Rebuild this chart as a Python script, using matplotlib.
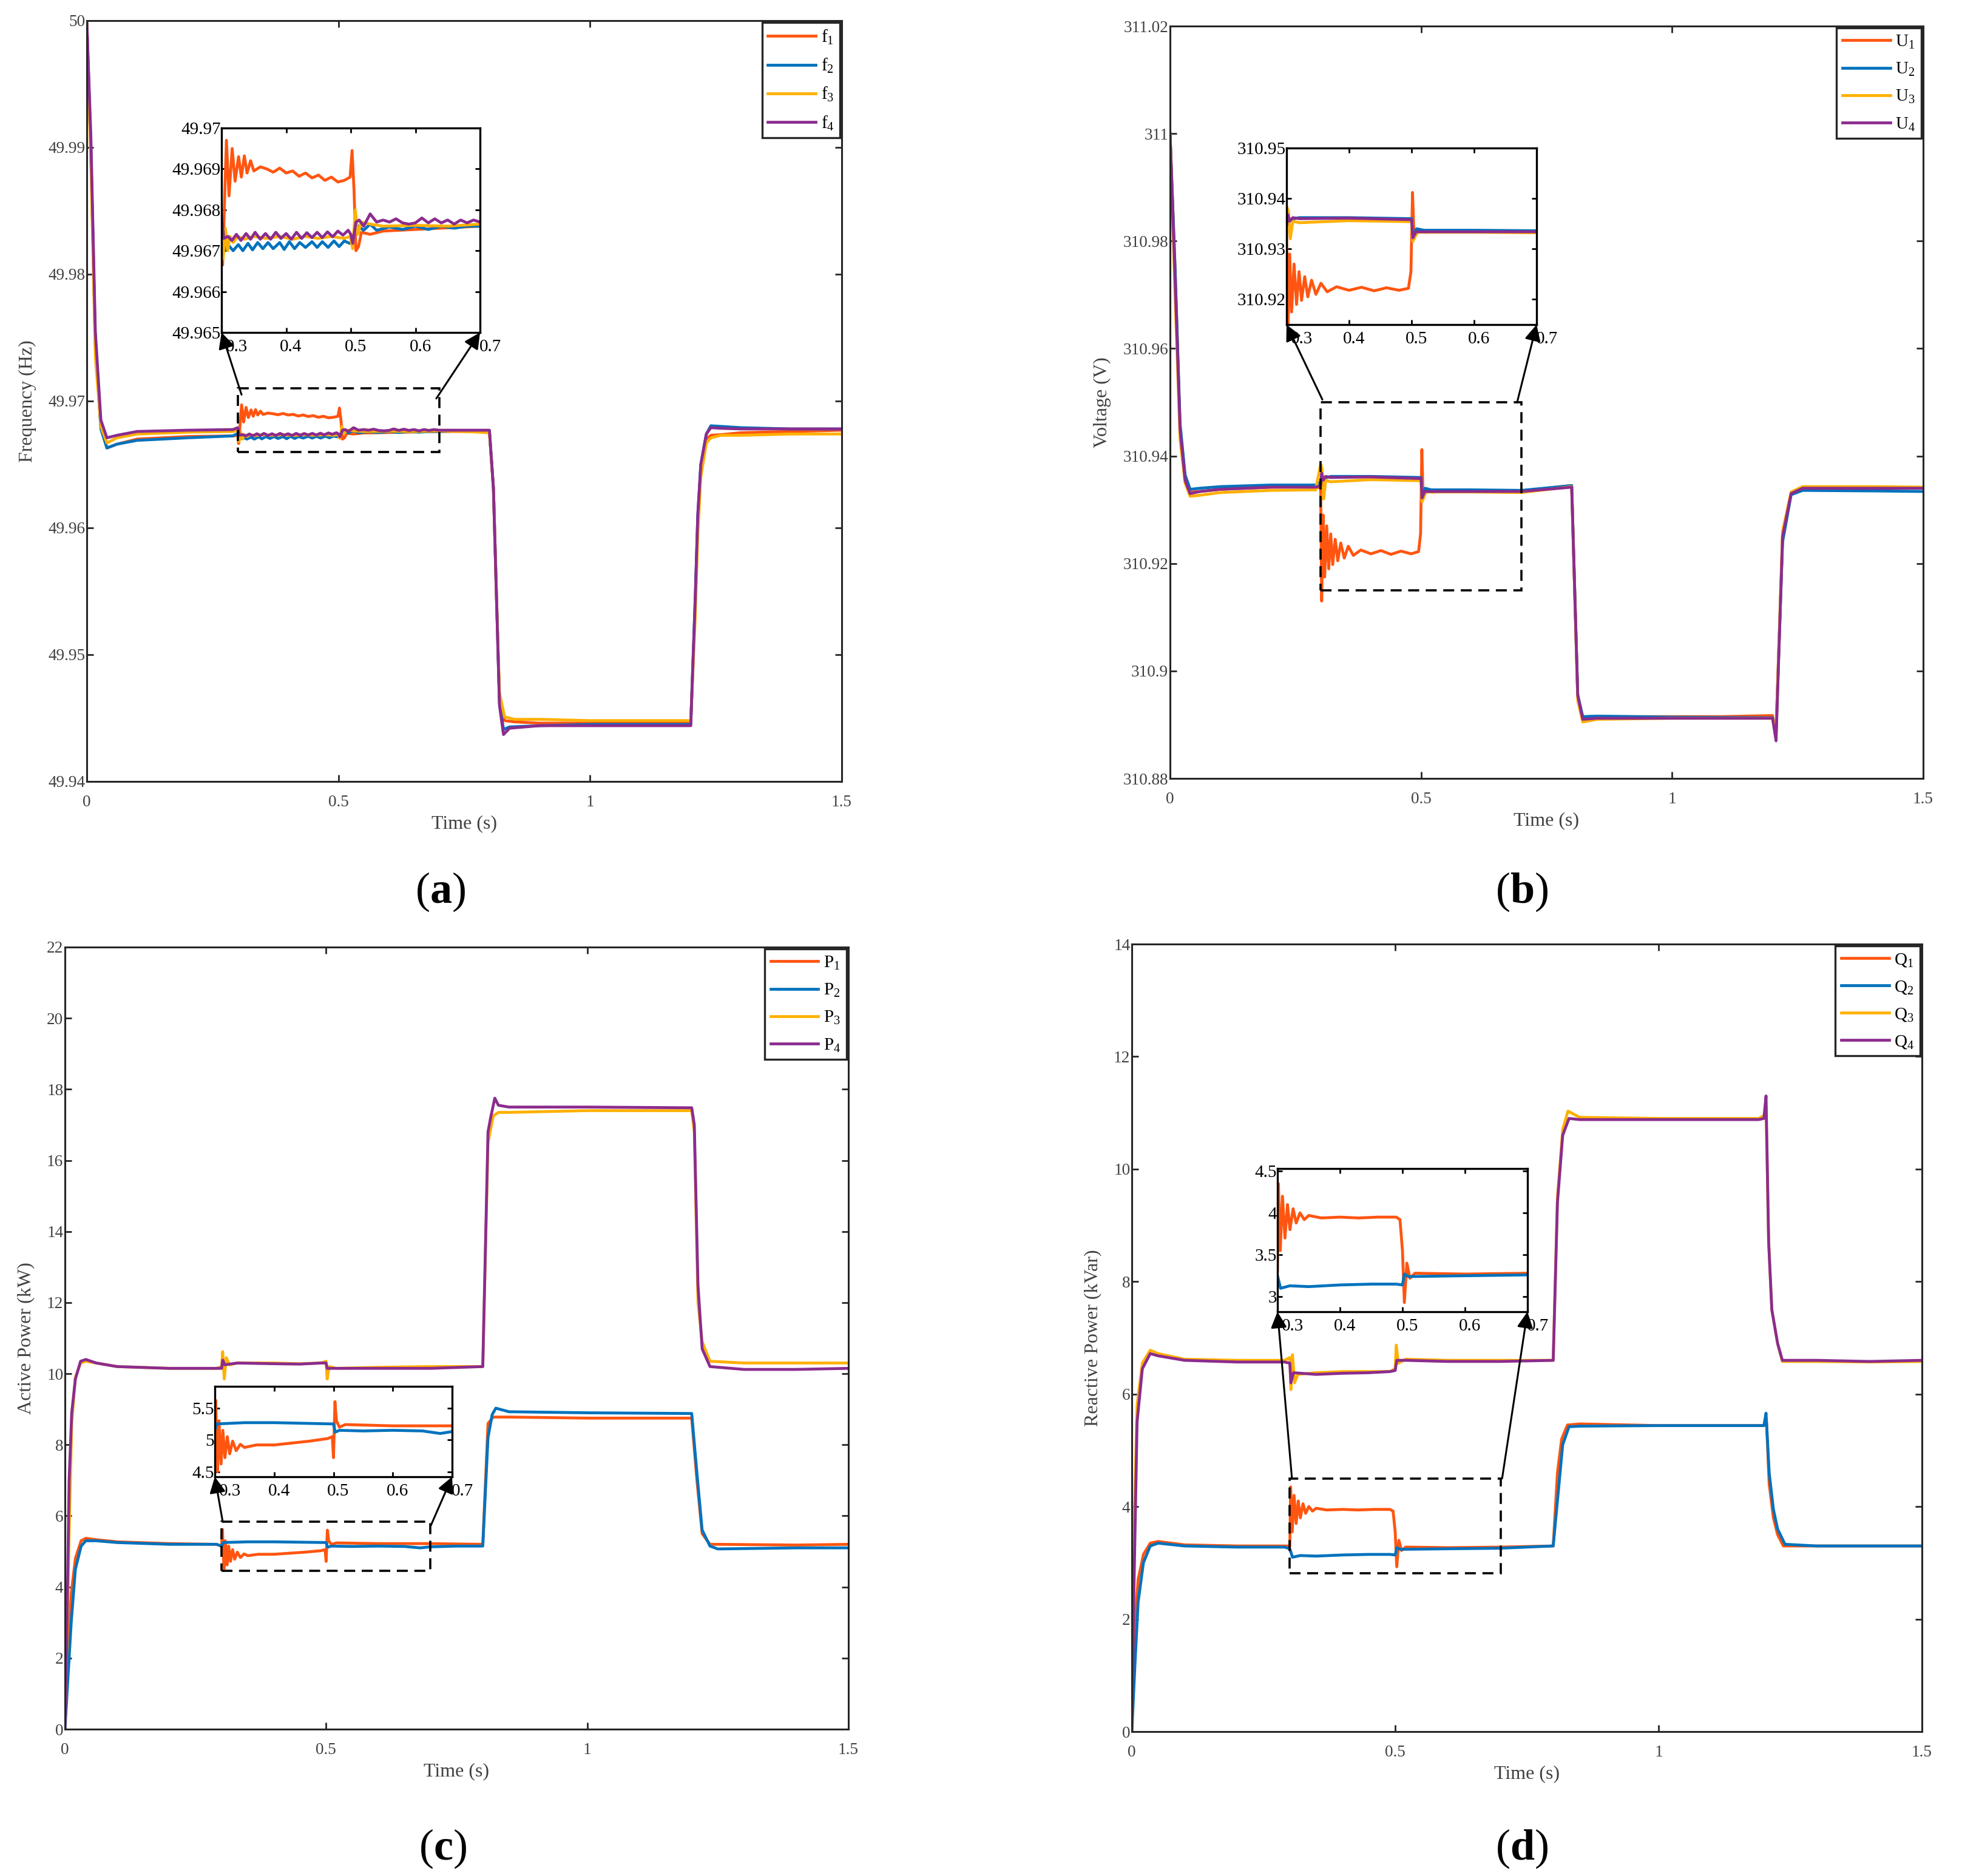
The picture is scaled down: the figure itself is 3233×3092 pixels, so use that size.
import matplotlib
matplotlib.use('Agg')
import matplotlib.pyplot as plt
import matplotlib.transforms as mtransforms
from matplotlib.patches import Rectangle
from matplotlib.lines import Line2D

plt.rcParams['font.family'] = ['Liberation Serif', 'DejaVu Serif']
plt.rcParams['mathtext.fontset'] = 'custom'
plt.rcParams['mathtext.rm'] = 'Liberation Serif'
plt.rcParams['mathtext.it'] = 'Liberation Serif:italic'
plt.rcParams['mathtext.bf'] = 'Liberation Serif:bold'

# ---------------- data ----------------
COLORS = ['#FF5510', '#0072BD', '#FFB000', '#8B2C8E']
x_ticks = [0, 0.5, 1, 1.5]
x_ticklabels = ['0', '0.5', '1', '1.5']
inset_xticks = [0.3, 0.4, 0.5, 0.6, 0.7]
inset_xticklabels = ['0.3', '0.4', '0.5', '0.6', '0.7']

# (a) frequency, Hz
t_f1 = [0, 0.008, 0.017, 0.028, 0.04, 0.06, 0.1, 0.2, 0.29, 0.3, 0.3017, 0.3076, 0.3116, 0.3165, 0.321,
        0.3264, 0.3307, 0.3353, 0.3396, 0.345, 0.35, 0.36, 0.37, 0.38, 0.39, 0.40, 0.41, 0.42, 0.43, 0.44,
        0.45, 0.46, 0.47, 0.48, 0.49, 0.499, 0.502, 0.505, 0.508, 0.512, 0.5165, 0.53, 0.55, 0.6, 0.65,
        0.7, 0.75, 0.8, 0.808, 0.814, 0.82, 0.83, 0.85, 0.9, 1.0, 1.1, 1.2, 1.209, 1.214, 1.22, 1.231,
        1.24, 1.26, 1.3, 1.4, 1.5]
f1 = [49.9995, 49.990, 49.9745, 49.968, 49.9663, 49.9666, 49.9670, 49.9672, 49.96725, 49.9673, 49.96665,
      49.9697, 49.96834, 49.9695, 49.9687, 49.9693, 49.9688, 49.96932, 49.9689, 49.9692, 49.96895,
      49.96905, 49.9690, 49.96892, 49.96902, 49.9689, 49.96895, 49.96882, 49.9689, 49.96878, 49.96885,
      49.96872, 49.9688, 49.96868, 49.96872, 49.9688, 49.96945, 49.9685, 49.9670, 49.9671, 49.96745,
      49.9674, 49.96748, 49.96752, 49.96756, 49.9676, 49.9676, 49.9676, 49.9631, 49.9546, 49.9465,
      49.9448, 49.9447, 49.9446, 49.9446, 49.9446, 49.9446, 49.9540, 49.9605, 49.9645, 49.9670,
      49.9673, 49.96735, 49.9675, 49.9676, 49.9677]
t_f2 = [0, 0.008, 0.017, 0.028, 0.04, 0.06, 0.1, 0.2, 0.29, 0.3, 0.304, 0.31, 0.318, 0.326, 0.333, 0.341,
        0.348, 0.356, 0.364, 0.372, 0.38, 0.39, 0.397, 0.405, 0.413, 0.421, 0.43, 0.44, 0.448, 0.456,
        0.465, 0.474, 0.482, 0.49, 0.498, 0.502, 0.506, 0.51, 0.52, 0.53, 0.54, 0.56, 0.58, 0.6, 0.62,
        0.64, 0.66, 0.68, 0.7, 0.75, 0.8, 0.808, 0.814, 0.82, 0.828, 0.84, 0.9, 1.0, 1.1, 1.2, 1.209,
        1.214, 1.22, 1.231, 1.24, 1.26, 1.3, 1.4, 1.5]
f2 = [50.0, 49.990, 49.9745, 49.9678, 49.9663, 49.9666, 49.9669, 49.9671, 49.96725, 49.96745, 49.9670,
      49.96715, 49.9670, 49.96715, 49.9670, 49.96718, 49.96702, 49.9672, 49.96705, 49.9672, 49.96705,
      49.9672, 49.96703, 49.96722, 49.96705, 49.9672, 49.96708, 49.96722, 49.96708, 49.96722, 49.96708,
      49.96724, 49.9671, 49.96724, 49.96718, 49.9672, 49.9675, 49.96762, 49.9675, 49.96765, 49.9675,
      49.96758, 49.96752, 49.9676, 49.96752, 49.9676, 49.96755, 49.9676, 49.9676, 49.96765, 49.96765,
      49.9631, 49.9546, 49.9462, 49.9441, 49.9443, 49.9444, 49.9445, 49.9445, 49.9445, 49.9545,
      49.9610, 49.9650, 49.9674, 49.96805, 49.9680, 49.9679, 49.9678, 49.9678]
t_f3 = [0, 0.008, 0.017, 0.028, 0.04, 0.06, 0.1, 0.2, 0.29, 0.3, 0.3025, 0.306, 0.3095, 0.313, 0.318,
        0.325, 0.335, 0.35, 0.37, 0.39, 0.41, 0.43, 0.45, 0.47, 0.49, 0.499, 0.503, 0.507, 0.511, 0.516,
        0.53, 0.55, 0.6, 0.65, 0.7, 0.75, 0.8, 0.808, 0.814, 0.82, 0.83, 0.85, 0.9, 1.0, 1.1, 1.2, 1.209,
        1.214, 1.22, 1.231, 1.24, 1.26, 1.3, 1.4, 1.5]
f3 = [50.0, 49.989, 49.9735, 49.968, 49.9667, 49.9671, 49.9674, 49.96755, 49.9676, 49.9677, 49.9668,
      49.96755, 49.9670, 49.96735, 49.9672, 49.96735, 49.96728, 49.96735, 49.9673, 49.96735, 49.96728,
      49.96735, 49.9673, 49.96735, 49.9673, 49.96735, 49.96705, 49.9680, 49.9674, 49.9677, 49.96765,
      49.9676, 49.96762, 49.9676, 49.96765, 49.9676, 49.9675, 49.9631, 49.9546, 49.9470, 49.9451,
      49.9449, 49.9449, 49.9448, 49.9448, 49.9448, 49.9530, 49.9595, 49.9640, 49.9667, 49.9671,
      49.9673, 49.9673, 49.9674, 49.9674]
t_f4 = [0, 0.008, 0.017, 0.028, 0.04, 0.06, 0.1, 0.2, 0.29, 0.3, 0.3035, 0.31, 0.316, 0.323, 0.33,
        0.338, 0.345, 0.352, 0.36, 0.368, 0.376, 0.384, 0.392, 0.4, 0.408, 0.416, 0.424, 0.432, 0.44,
        0.448, 0.456, 0.464, 0.472, 0.48, 0.488, 0.496, 0.5, 0.503, 0.508, 0.513, 0.52, 0.53, 0.54,
        0.55, 0.56, 0.57, 0.58, 0.59, 0.6, 0.61, 0.62, 0.63, 0.64, 0.65, 0.66, 0.67, 0.68, 0.69, 0.7,
        0.75, 0.8, 0.808, 0.814, 0.82, 0.828, 0.84, 0.9, 1.0, 1.1, 1.2, 1.209, 1.214, 1.22, 1.231, 1.24,
        1.26, 1.3, 1.4, 1.5]
f4 = [50.0, 49.991, 49.9755, 49.9685, 49.9671, 49.9673, 49.9676, 49.9677, 49.96775, 49.9679, 49.9673,
      49.96735, 49.96725, 49.9674, 49.96725, 49.96742, 49.96728, 49.96745, 49.96728, 49.96742,
      49.96728, 49.96745, 49.9673, 49.96742, 49.96728, 49.96745, 49.9673, 49.96744, 49.96732,
      49.96745, 49.96732, 49.96746, 49.96734, 49.96748, 49.96738, 49.9675, 49.9674, 49.96718,
      49.9677, 49.96775, 49.9676, 49.9679, 49.9677, 49.96775, 49.9677, 49.96778, 49.96768, 49.96765,
      49.96768, 49.9678, 49.96768, 49.96778, 49.96768, 49.96775, 49.96765, 49.96775, 49.96768,
      49.96775, 49.9677, 49.9677, 49.9677, 49.9631, 49.9546, 49.9460, 49.9437, 49.9442, 49.9444,
      49.9444, 49.9444, 49.9444, 49.9545, 49.9610, 49.9650, 49.9674, 49.9679, 49.96785, 49.9678,
      49.9678, 49.9678]

# (b) voltage, V
t_u1 = [0, 0.01, 0.02, 0.03, 0.04, 0.06, 0.1, 0.2, 0.29, 0.3, 0.302, 0.305, 0.308, 0.312, 0.316, 0.32,
        0.324, 0.329, 0.334, 0.34, 0.347, 0.355, 0.365, 0.38, 0.4, 0.42, 0.44, 0.46, 0.48, 0.495, 0.499,
        0.5015, 0.504, 0.508, 0.52, 0.6, 0.7, 0.8, 0.812, 0.822, 0.85, 1.0, 1.1, 1.2, 1.207, 1.22, 1.237,
        1.26, 1.4, 1.5]
u1 = [311.0, 310.975, 310.945, 310.936, 310.9333, 310.9334, 310.9338, 310.9342, 310.9343, 310.934,
      310.913, 310.929, 310.9175, 310.927, 310.919, 310.9255, 310.9198, 310.9245, 310.9205, 310.9238,
      310.921, 310.9232, 310.9215, 310.9225, 310.9218, 310.9224, 310.9217, 310.9223, 310.9218,
      310.9222, 310.9255, 310.9412, 310.932, 310.9338, 310.9333, 310.9335, 310.9335, 310.9345,
      310.8955, 310.8912, 310.8915, 310.8915, 310.8915, 310.8917, 310.888, 310.925, 310.933, 310.934,
      310.934, 310.934]
t_u2 = [0, 0.01, 0.02, 0.03, 0.04, 0.06, 0.1, 0.2, 0.29, 0.3, 0.305, 0.32, 0.4, 0.5, 0.502, 0.508, 0.52,
        0.6, 0.7, 0.8, 0.812, 0.822, 0.85, 1.0, 1.2, 1.207, 1.22, 1.237, 1.26, 1.4, 1.5]
u2 = [311.0, 310.975, 310.946, 310.9365, 310.9338, 310.934, 310.9343, 310.9346, 310.9346, 310.9352,
      310.9358, 310.9362, 310.9362, 310.936, 310.9325, 310.934, 310.9337, 310.9337, 310.9336, 310.9345,
      310.8955, 310.8915, 310.8916, 310.8914, 310.8913, 310.889, 310.924, 310.9328, 310.9336,
      310.9335, 310.9334]
t_u3 = [0, 0.01, 0.02, 0.03, 0.04, 0.06, 0.1, 0.2, 0.29, 0.3, 0.303, 0.306, 0.31, 0.32, 0.4, 0.5, 0.502,
        0.506, 0.51, 0.6, 0.7, 0.8, 0.812, 0.822, 0.85, 1.0, 1.2, 1.207, 1.22, 1.237, 1.26, 1.4, 1.5]
u3 = [311.0, 310.970, 310.943, 310.935, 310.9325, 310.9327, 310.9332, 310.9336, 310.9337, 310.9385,
      310.9375, 310.932, 310.9355, 310.9352, 310.9356, 310.9354, 310.9315, 310.9325, 310.9333,
      310.9333, 310.9332, 310.9343, 310.8945, 310.8905, 310.891, 310.8912, 310.8912, 310.889,
      310.926, 310.9333, 310.9343, 310.9343, 310.9342]
t_u4 = [0, 0.01, 0.02, 0.03, 0.04, 0.06, 0.1, 0.2, 0.29, 0.3, 0.302, 0.305, 0.31, 0.32, 0.4, 0.5, 0.502,
        0.507, 0.52, 0.6, 0.7, 0.8, 0.812, 0.822, 0.85, 1.0, 1.2, 1.207, 1.22, 1.237, 1.26, 1.4, 1.5]
u4 = [311.0, 310.973, 310.945, 310.9355, 310.933, 310.9334, 310.9338, 310.9342, 310.9342, 310.9345,
      310.9368, 310.9355, 310.9362, 310.936, 310.9361, 310.9358, 310.9322, 310.9334, 310.9334,
      310.9334, 310.9334, 310.9342, 310.8955, 310.891, 310.8912, 310.8912, 310.8912, 310.887,
      310.925, 310.933, 310.934, 310.934, 310.934]

# (c) active power, kW
t_p1 = [0, 0.006, 0.012, 0.02, 0.031, 0.04, 0.06, 0.1, 0.2, 0.29, 0.3, 0.3015, 0.3045, 0.307, 0.3105,
        0.3135, 0.317, 0.321, 0.325, 0.33, 0.336, 0.343, 0.35, 0.37, 0.4, 0.43, 0.46, 0.49, 0.498, 0.5,
        0.5025, 0.505, 0.51, 0.52, 0.6, 0.7, 0.8, 0.81, 0.82, 0.85, 1.0, 1.2, 1.21, 1.22, 1.235, 1.25,
        1.4, 1.5]
p1 = [0.3, 2.2, 3.8, 4.8, 5.3, 5.37, 5.33, 5.27, 5.22, 5.2, 5.15, 5.62, 4.5, 5.3, 4.62, 5.15, 4.72,
      5.05, 4.78, 4.98, 4.83, 4.93, 4.88, 4.92, 4.92, 4.95, 4.98, 5.02, 5.05, 4.72, 5.6, 5.3, 5.2,
      5.24, 5.22, 5.22, 5.2, 8.6, 8.78, 8.78, 8.75, 8.75, 7.0, 5.5, 5.2, 5.2, 5.18, 5.2]
t_p2 = [0, 0.006, 0.012, 0.02, 0.031, 0.04, 0.06, 0.1, 0.2, 0.29, 0.3, 0.303, 0.35, 0.4, 0.45, 0.5,
        0.503, 0.51, 0.55, 0.6, 0.65, 0.68, 0.7, 0.75, 0.8, 0.81, 0.818, 0.825, 0.85, 1.0, 1.2, 1.21,
        1.22, 1.235, 1.25, 1.3, 1.4, 1.5]
p2 = [0.0, 1.5, 3.0, 4.5, 5.15, 5.3, 5.3, 5.25, 5.2, 5.2, 5.15, 5.25, 5.27, 5.27, 5.26, 5.25, 5.12,
      5.15, 5.14, 5.15, 5.14, 5.1, 5.13, 5.15, 5.15, 8.2, 8.85, 9.03, 8.93, 8.9, 8.88, 7.2, 5.6, 5.15,
      5.07, 5.08, 5.1, 5.1]
t_p3 = [0, 0.004, 0.008, 0.013, 0.02, 0.03, 0.04, 0.06, 0.1, 0.2, 0.29, 0.3, 0.302, 0.305, 0.309, 0.315,
        0.33, 0.4, 0.45, 0.49, 0.5, 0.502, 0.506, 0.52, 0.6, 0.7, 0.8, 0.81, 0.82, 0.83, 0.85, 1.0, 1.2,
        1.205, 1.212, 1.22, 1.235, 1.3, 1.4, 1.5]
p3 = [0.3, 2.5, 5.5, 8.6, 9.9, 10.3, 10.35, 10.3, 10.2, 10.15, 10.15, 10.2, 10.62, 9.85, 10.45, 10.25,
      10.3, 10.3, 10.28, 10.3, 10.35, 9.85, 10.2, 10.15, 10.18, 10.2, 10.2, 16.5, 17.25, 17.35, 17.35,
      17.4, 17.4, 16.8, 12.0, 10.9, 10.35, 10.3, 10.3, 10.3]
t_p4 = [0, 0.004, 0.008, 0.013, 0.02, 0.03, 0.04, 0.06, 0.1, 0.2, 0.29, 0.3, 0.302, 0.306, 0.33, 0.4,
        0.45, 0.49, 0.5, 0.502, 0.52, 0.6, 0.7, 0.8, 0.81, 0.815, 0.823, 0.83, 0.85, 1.0, 1.2, 1.205,
        1.212, 1.22, 1.235, 1.3, 1.4, 1.5]
p4 = [0.0, 3.0, 7.0, 8.9, 9.85, 10.35, 10.4, 10.3, 10.2, 10.15, 10.15, 10.15, 10.38, 10.25, 10.3,
      10.28, 10.27, 10.3, 10.3, 10.15, 10.15, 10.15, 10.15, 10.2, 16.8, 17.2, 17.75, 17.55, 17.5, 17.5,
      17.48, 17.0, 12.5, 10.7, 10.2, 10.12, 10.12, 10.15]

# (d) reactive power, kVar
t_q1 = [0, 0.006, 0.012, 0.022, 0.035, 0.05, 0.1, 0.2, 0.29, 0.3, 0.3015, 0.3045, 0.308, 0.312, 0.316,
        0.32, 0.325, 0.33, 0.336, 0.343, 0.35, 0.37, 0.4, 0.43, 0.46, 0.49, 0.496, 0.5, 0.503, 0.507,
        0.512, 0.52, 0.6, 0.7, 0.8, 0.808, 0.816, 0.827, 0.85, 1.0, 1.2, 1.205, 1.21, 1.218, 1.226,
        1.237, 1.3, 1.4, 1.5]
q1 = [0.1, 1.9, 2.7, 3.15, 3.35, 3.38, 3.32, 3.3, 3.3, 3.3, 4.35, 3.55, 4.2, 3.7, 4.1, 3.8, 4.05, 3.88,
      4.0, 3.92, 3.97, 3.94, 3.95, 3.94, 3.95, 3.95, 3.92, 3.55, 2.93, 3.4, 3.22, 3.28, 3.27, 3.28,
      3.3, 4.6, 5.2, 5.45, 5.47, 5.44, 5.44, 5.5, 4.4, 3.8, 3.5, 3.3, 3.3, 3.3, 3.3]
t_q2 = [0, 0.006, 0.012, 0.022, 0.035, 0.05, 0.1, 0.2, 0.29, 0.3, 0.305, 0.32, 0.35, 0.4, 0.45, 0.49,
        0.5, 0.503, 0.51, 0.6, 0.7, 0.8, 0.81, 0.818, 0.83, 0.85, 1.0, 1.2, 1.204, 1.21, 1.218, 1.226,
        1.24, 1.3, 1.4, 1.5]
q2 = [0.0, 1.2, 2.3, 3.0, 3.3, 3.35, 3.3, 3.28, 3.28, 3.25, 3.1, 3.13, 3.12, 3.14, 3.15, 3.15, 3.14,
      3.27, 3.24, 3.25, 3.26, 3.3, 4.3, 5.1, 5.42, 5.43, 5.44, 5.44, 5.66, 4.6, 3.95, 3.6, 3.33, 3.3,
      3.3, 3.3]
t_q3 = [0, 0.004, 0.01, 0.02, 0.035, 0.05, 0.1, 0.2, 0.29, 0.3, 0.302, 0.305, 0.309, 0.315, 0.35, 0.4,
        0.45, 0.49, 0.5, 0.502, 0.506, 0.52, 0.6, 0.7, 0.8, 0.808, 0.818, 0.828, 0.85, 1.0, 1.19, 1.2,
        1.204, 1.209, 1.215, 1.226, 1.235, 1.3, 1.4, 1.5]
q3 = [0.3, 3.5, 5.8, 6.55, 6.78, 6.72, 6.62, 6.6, 6.6, 6.65, 6.08, 6.7, 6.2, 6.35, 6.38, 6.4, 6.4, 6.4,
      6.45, 6.87, 6.55, 6.62, 6.6, 6.6, 6.6, 9.5, 10.7, 11.03, 10.92, 10.9, 10.9, 10.95, 11.1, 8.7,
      7.5, 6.9, 6.58, 6.58, 6.57, 6.58]
t_q4 = [0, 0.004, 0.01, 0.02, 0.035, 0.05, 0.1, 0.2, 0.29, 0.3, 0.302, 0.307, 0.35, 0.4, 0.45, 0.49,
        0.5, 0.503, 0.52, 0.6, 0.7, 0.8, 0.808, 0.818, 0.83, 0.85, 1.0, 1.19, 1.2, 1.204, 1.209, 1.215,
        1.226, 1.235, 1.3, 1.4, 1.5]
q4 = [0.0, 2.5, 5.5, 6.45, 6.72, 6.68, 6.6, 6.57, 6.57, 6.55, 6.2, 6.38, 6.35, 6.37, 6.38, 6.4, 6.42,
      6.6, 6.6, 6.58, 6.58, 6.6, 9.4, 10.6, 10.9, 10.88, 10.88, 10.88, 10.9, 11.3, 8.7, 7.5, 6.9,
      6.6, 6.6, 6.58, 6.6]

# axis settings
a_yticks = [49.94, 49.95, 49.96, 49.97, 49.98, 49.99, 50.0]
a_yticklabels = ['49.94', '49.95', '49.96', '49.97', '49.98', '49.99', '50']
a_inset_yticks = [49.965, 49.966, 49.967, 49.968, 49.969, 49.97]
a_inset_yticklabels = ['49.965', '49.966', '49.967', '49.968', '49.969', '49.97']
b_yticks = [310.88, 310.90, 310.92, 310.94, 310.96, 310.98, 311.0, 311.02]
b_yticklabels = ['310.88', '310.9', '310.92', '310.94', '310.96', '310.98', '311', '311.02']
b_inset_yticks = [310.92, 310.93, 310.94, 310.95]
b_inset_yticklabels = ['310.92', '310.93', '310.94', '310.95']
c_yticks = list(range(0, 23, 2))
c_inset_yticks = [4.5, 5.0, 5.5]
c_inset_yticklabels = ['4.5', '5', '5.5']
d_yticks = list(range(0, 15, 2))
d_inset_yticks = [3.0, 3.5, 4.0, 4.5]
d_inset_yticklabels = ['3', '3.5', '4', '4.5']

# ---------------- drawing ----------------
W, H = 3233, 3092
DPI = 200
fig = plt.figure(figsize=(W / DPI, H / DPI), dpi=DPI)
fig.patch.set_facecolor('white')

SPINE = '#262626'
TICKLAB = '#404040'
INSET_LABEL_SHIFT = [9.0, 2.9, 2.9, 2.9, 6.0]   # points, horizontal shift of inset x labels


def box(x0, y0, x1, y1):
    return [x0 / W, 1 - y1 / H, (x1 - x0) / W, (y1 - y0) / H]


def frame(ax, lw, color):
    for s in ax.spines.values():
        s.set_linewidth(lw)
        s.set_color(color)


def panel(rect, series, ylim, yticks, yticklabels, ylabel, names,
          inset_rect, inset_ylim, inset_yticks, inset_yticklabels,
          dash, arrow_l, arrow_r):
    ax = fig.add_axes(box(*rect))
    for (t, v), c in zip(series, COLORS):
        ax.plot(t, v, color=c, lw=1.7, solid_joinstyle='round')
    ax.set_xlim(0, 1.5)
    ax.set_ylim(*ylim)
    ax.set_xticks(x_ticks)
    ax.set_xticklabels(x_ticklabels)
    ax.set_yticks(yticks)
    ax.set_yticklabels(yticklabels)
    ax.tick_params(direction='in', top=True, right=True, length=4, width=1.0,
                   color=SPINE, labelcolor=TICKLAB, labelsize=9.8)
    ax.tick_params(axis='x', pad=8)
    ax.tick_params(axis='y', pad=1)
    frame(ax, 1.1, SPINE)
    ax.set_xlabel('Time (s)', fontsize=11.5, color=TICKLAB, labelpad=3)
    ax.set_ylabel(ylabel, fontsize=11.5, color=TICKLAB, labelpad=7)
    handles = [Line2D([], [], color=c, lw=1.7) for c in COLORS]
    leg = ax.legend(handles, names, loc='upper right', fontsize=10.5, frameon=True,
                    fancybox=False, framealpha=1, edgecolor=SPINE, handlelength=2.7,
                    handletextpad=0.3, borderpad=0.33, labelspacing=0.62, borderaxespad=0.1)
    leg.get_frame().set_linewidth(1.2)
    # dashed selection box
    ax.add_patch(Rectangle((dash[0], dash[1]), dash[2] - dash[0], dash[3] - dash[1], fill=False,
                           ls=(0, (5, 3)), lw=1.3, color='k', zorder=6))
    # inset
    ins = fig.add_axes(box(*inset_rect))
    for (t, v), c in zip(series, COLORS):
        ins.plot(t, v, color=c, lw=1.7, solid_joinstyle='round')
    ins.set_xlim(0.3, 0.7)
    ins.set_ylim(*inset_ylim)
    ins.set_xticks(inset_xticks)
    ins.set_xticklabels(inset_xticklabels)
    ins.set_yticks(inset_yticks)
    ins.set_yticklabels(inset_yticklabels)
    ins.tick_params(direction='in', top=True, right=True, length=3, width=1.0,
                    color='k', labelcolor='k', labelsize=10.5)
    ins.tick_params(axis='x', pad=4)
    ins.tick_params(axis='y', pad=0.5)
    frame(ins, 1.2, 'k')
    for lab, dx in zip(ins.get_xticklabels(), INSET_LABEL_SHIFT):
        lab.set_transform(lab.get_transform() +
                          mtransforms.ScaledTranslation(dx / 72.0, 0, fig.dpi_scale_trans))
    for start, corner in ((arrow_l, (0, 0)), (arrow_r, (1, 0))):
        ins.annotate('', xy=corner, xycoords='axes fraction', xytext=start,
                     textcoords=ax.transData, annotation_clip=False,
                     arrowprops=dict(arrowstyle='-|>', color='k', lw=1.1, mutation_scale=20,
                                     shrinkA=0, shrinkB=0))
    return ax, ins


panel((143, 34, 1387, 1288), [(t_f1, f1), (t_f2, f2), (t_f3, f3), (t_f4, f4)],
      (49.94, 50.0), a_yticks, a_yticklabels, 'Frequency (Hz)',
      ['f$_{1}$', 'f$_{2}$', 'f$_{3}$', 'f$_{4}$'],
      (365, 211, 791, 548), (49.965, 49.97), a_inset_yticks, a_inset_yticklabels,
      (0.3, 49.966, 0.7, 49.971), (0.3075, 49.9705), (0.6945, 49.9702))

panel((1928, 43, 3169, 1283), [(t_u1, u1), (t_u2, u2), (t_u3, u3), (t_u4, u4)],
      (310.88, 311.02), b_yticks, b_yticklabels, 'Voltage (V)',
      ['U$_{1}$', 'U$_{2}$', 'U$_{3}$', 'U$_{4}$'],
      (2120, 244, 2532, 535), (310.915, 310.95), b_inset_yticks, b_inset_yticklabels,
      (0.3, 310.915, 0.7, 310.95), (0.3034, 310.9505), (0.6913, 310.9500))

panel((107, 1561, 1398, 2850), [(t_p1, p1), (t_p2, p2), (t_p3, p3), (t_p4, p4)],
      (0, 22), c_yticks, [str(v) for v in c_yticks], 'Active Power (kW)',
      ['P$_{1}$', 'P$_{2}$', 'P$_{3}$', 'P$_{4}$'],
      (354, 2285, 745, 2434), (4.42, 5.84), c_inset_yticks, c_inset_yticklabels,
      (0.3, 4.45, 0.7, 5.84), (0.302, 5.84), (0.7006, 5.73))

panel((1865, 1556, 3167, 2854), [(t_q1, q1), (t_q2, q2), (t_q3, q3), (t_q4, q4)],
      (0, 14), d_yticks, [str(v) for v in d_yticks], 'Reactive Power (kVar)',
      ['Q$_{1}$', 'Q$_{2}$', 'Q$_{3}$', 'Q$_{4}$'],
      (2105, 1926, 2517, 2162), (2.82, 4.53), d_inset_yticks, d_inset_yticklabels,
      (0.3, 2.82, 0.7, 4.5), (0.304, 4.5), (0.703, 4.5))

for lab, (px, py) in zip(['a', 'b', 'c', 'd'], [(726, 1470), (2508, 1470), (730, 3047), (2508, 3047)]):
    fig.text(px / W, 1 - py / H, '($\\mathbf{%s}$)' % lab, ha='center', va='center',
             fontsize=26, color='k')

fig.savefig('out.png', dpi=DPI, facecolor='white')
